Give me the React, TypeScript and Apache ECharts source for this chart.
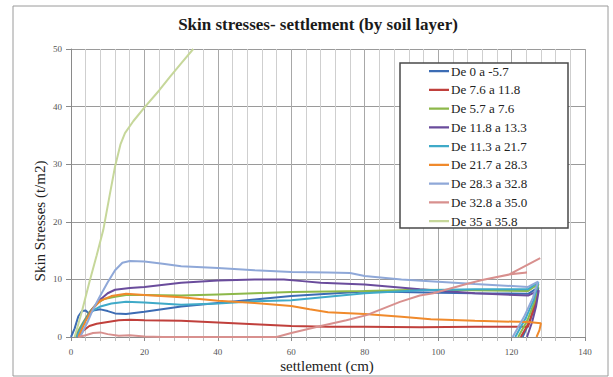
import React, { useEffect, useRef } from "react";
import * as echarts from "echarts";

// Skin stress (t/m2) against settlement (cm), one curve per soil layer.
const layerNames = [
  "De 0 a -5.7",
  "De 7.6 a 11.8",
  "De 5.7 a 7.6",
  "De 11.8 a 13.3",
  "De 11.3 a 21.7",
  "De 21.7 a 28.3",
  "De 28.3 a 32.8",
  "De 32.8 a 35.0",
  "De 35 a 35.8",
];

const layerColors = [
  "#3C6CB4",
  "#C0403C",
  "#8DB84A",
  "#6A4C9C",
  "#3FAAC8",
  "#F08A2C",
  "#8FA8D8",
  "#D8908E",
  "#C6D79A",
];

const layer1: number[][] = [
  [0, 0], [1, 1.5], [2, 3.6], [3, 4.5], [4, 4.6], [5, 4.0], [6, 4.6], [8, 4.8],
  [10, 4.5], [12, 4.1], [15, 4.0], [20, 4.4], [30, 5.3], [40, 5.9], [50, 6.5],
  [60, 7.1], [70, 7.5], [80, 7.9], [90, 7.8], [100, 7.7], [110, 7.6], [124.5, 7.5],
  [127.3, 8.6], [126.4, 5.6], [125, 2.8], [123, 0],
];
const layer2: number[][] = [
  [2, 0], [3.5, 1.2], [5, 1.9], [7, 2.3], [10, 2.6], [13, 2.9], [16, 3.0], [20, 2.9],
  [30, 2.8], [40, 2.5], [50, 2.2], [60, 1.9], [70, 1.8], [80, 1.8], [95, 1.7],
  [110, 1.8], [124.5, 1.8], [127, 7.2], [126, 4.6], [124.5, 2.2], [122.5, 0],
];
const layer3: number[][] = [
  [1, 0], [3, 2.2], [5, 4.3], [7, 5.8], [9, 6.6], [12, 7.0], [15, 7.3], [20, 7.3],
  [30, 7.2], [40, 7.4], [50, 7.6], [60, 7.8], [70, 7.9], [80, 8.0], [95, 8.2],
  [110, 8.1], [124.5, 8.0], [127.3, 9.2], [126.2, 6.0], [124.4, 3.0], [121.8, 0],
];
const layer4: number[][] = [
  [1.5, 0], [3.5, 2.5], [5.5, 4.6], [8, 6.5], [10, 7.6], [12, 8.2], [16, 8.5],
  [20, 8.7], [30, 9.4], [40, 9.8], [50, 10.0], [58, 10.0], [63, 9.7], [68, 9.4],
  [80, 9.1], [95, 8.3], [110, 7.6], [124.5, 7.2], [127.4, 8.1], [126.7, 5.4],
  [125.6, 2.6], [124.2, 0],
];
const layer5: number[][] = [
  [1.5, 0], [3.5, 2.5], [5.5, 4.4], [8, 5.3], [11, 5.8], [15, 6.1], [20, 6.0],
  [30, 5.6], [40, 5.8], [50, 6.2], [60, 6.4], [70, 7.0], [80, 7.6], [95, 8.1],
  [110, 8.3], [124.5, 8.3], [127.3, 9.5], [126, 6.4], [123.8, 3.2], [121, 0],
];
const layer6: number[][] = [
  [2, 0], [4, 2.8], [6, 5.0], [8, 6.3], [11, 7.1], [15, 7.5], [20, 7.3], [30, 6.9],
  [40, 6.3], [50, 5.9], [60, 5.4], [65, 4.8], [70, 4.3], [80, 4.0], [90, 3.5],
  [98, 3.1], [110, 2.8], [124.5, 2.6], [128, 2.4], [127.6, 1.2], [126.8, 0],
];
const layer7: number[][] = [
  [2.5, 0], [4.5, 2.6], [6, 4.8], [8, 7.2], [10, 9.5], [12, 11.6], [14, 12.9],
  [16, 13.2], [20, 13.1], [25, 12.7], [30, 12.3], [40, 12.0], [50, 11.6], [60, 11.3],
  [70, 11.2], [76, 11.1], [80, 10.6], [90, 10.0], [100, 9.6], [110, 9.2], [124.5, 8.7],
  [127.2, 9.6], [125.8, 6.8], [123.4, 3.5], [120.3, 0],
];
const layer8: number[][] = [
  [2, 0], [4, 0.3], [6, 0.7], [8, 0.8], [10, 0.5], [13, 0.2], [16, 0.3], [20, 0.1],
  [25, 0], [56, 0], [60, 0.7], [68, 1.9], [75, 2.9], [80.5, 3.8], [89.6, 6.1],
  [95, 7.2], [98.7, 7.6], [107.7, 9.2], [112, 9.9], [119.8, 10.9], [124.2, 11.2],
  [119.5, 10.9], [127.8, 13.7],
];
const layer9: number[][] = [
  [1, 0], [3, 4.5], [5, 9.5], [7, 14.2], [8.8, 18.6], [10.5, 24.5], [12, 29.6],
  [13.5, 33.5], [14.7, 35.4], [17, 37.5], [20.2, 40], [24, 42.8], [27, 45.2],
  [30, 47.5], [33.3, 50],
];

const layerData = [layer1, layer2, layer3, layer4, layer5, layer6, layer7, layer8, layer9];

const SERIF = "Liberation Serif";

// Legend key: a short horizontal stroke centred in the 20x14 key box.
const LINE_KEY =
  "path://M0,0 L0.01,0 L0,0 Z M0,6 L20,6 L20,8.2 L0,8.2 Z M0,14 L0.01,14 L0,14 Z";

export default function App() {
  const ref = useRef<HTMLDivElement>(null);

  useEffect(() => {
    if (!ref.current) return;
    const chart = echarts.init(ref.current, undefined, { renderer: "svg" });

    chart.setOption({
      animation: false,
      backgroundColor: "#ffffff",
      textStyle: { fontFamily: SERIF },
      title: {
        text: "Skin stresses- settlement (by soil layer)",
        left: 313,
        top: 11,
        textAlign: "center",
        textStyle: {
          fontFamily: SERIF,
          fontWeight: "bold",
          fontSize: 17,
          color: "#1a1a1a",
        },
      },
      grid: { left: 71, top: 49, width: 514, height: 288, containLabel: false },
      xAxis: {
        type: "value",
        min: 0,
        max: 140,
        interval: 20,
        axisLine: { show: true, lineStyle: { color: "#8a8a8a", width: 1 } },
        axisTick: { show: true, length: 4, lineStyle: { color: "#8a8a8a" } },
        minorTick: { show: true, splitNumber: 5, length: 4, lineStyle: { color: "#bbbbbb" } },
        splitLine: { show: true, lineStyle: { color: "#a8a8a8", width: 1 } },
        minorSplitLine: { show: true, lineStyle: { color: "#cfcfcf", width: 1 } },
        axisLabel: { fontFamily: SERIF, fontSize: 9, color: "#555", margin: 10 },
      },
      yAxis: {
        type: "value",
        min: 0,
        max: 50,
        interval: 10,
        axisLine: { show: true, lineStyle: { color: "#8a8a8a", width: 1 } },
        axisTick: { show: true, length: 5, lineStyle: { color: "#8a8a8a" } },
        splitLine: { show: true, lineStyle: { color: "#9a9a9a", width: 1 } },
        axisLabel: { fontFamily: SERIF, fontSize: 9, color: "#555", margin: 9 },
      },
      legend: {
        orient: "vertical",
        left: 429,
        top: 64,
        padding: 0,
        itemWidth: 20,
        itemHeight: 14,
        itemGap: 4.75,
        z: 10,
        icon: LINE_KEY,
        data: layerNames,
        textStyle: { fontFamily: SERIF, fontSize: 13, color: "#222", padding: [0, 0, 0, -3] },
      },
      graphic: [
        {
          type: "rect",
          z: 0,
          silent: true,
          shape: { x: 13, y: 6, width: 595, height: 370 },
          style: { fill: "none", stroke: "#9a9a9a", lineWidth: 1 },
        },
        {
          type: "rect",
          z: 5,
          silent: true,
          shape: { x: 400, y: 63, width: 168, height: 165 },
          style: { fill: "#ffffff", stroke: "#4a4a4a", lineWidth: 1.5 },
        },
        {
          type: "text",
          z: 5,
          silent: true,
          x: 40,
          y: 221,
          rotation: Math.PI / 2,
          style: {
            text: "Skin Stresses (t/m2)",
            fontFamily: SERIF,
            fontSize: 15,
            fill: "#222",
            align: "center",
            verticalAlign: "middle",
          },
        },
        {
          type: "text",
          z: 5,
          silent: true,
          x: 327,
          y: 366,
          style: {
            text: "settlement (cm)",
            fontFamily: SERIF,
            fontSize: 15,
            fill: "#222",
            align: "center",
            verticalAlign: "middle",
          },
        },
      ],
      series: layerNames.map((name, i) => ({
        name,
        type: "line",
        data: layerData[i],
        symbol: "none",
        showSymbol: false,
        smooth: false,
        clip: true,
        z: 2,
        color: layerColors[i],
        lineStyle: { color: layerColors[i], width: 2 },
        itemStyle: { color: layerColors[i] },
      })),
    });

    return () => chart.dispose();
  }, []);

  return (
    <div
      ref={ref}
      style={{ position: "fixed", left: 0, top: 0, width: 613, height: 377 }}
    />
  );
}
